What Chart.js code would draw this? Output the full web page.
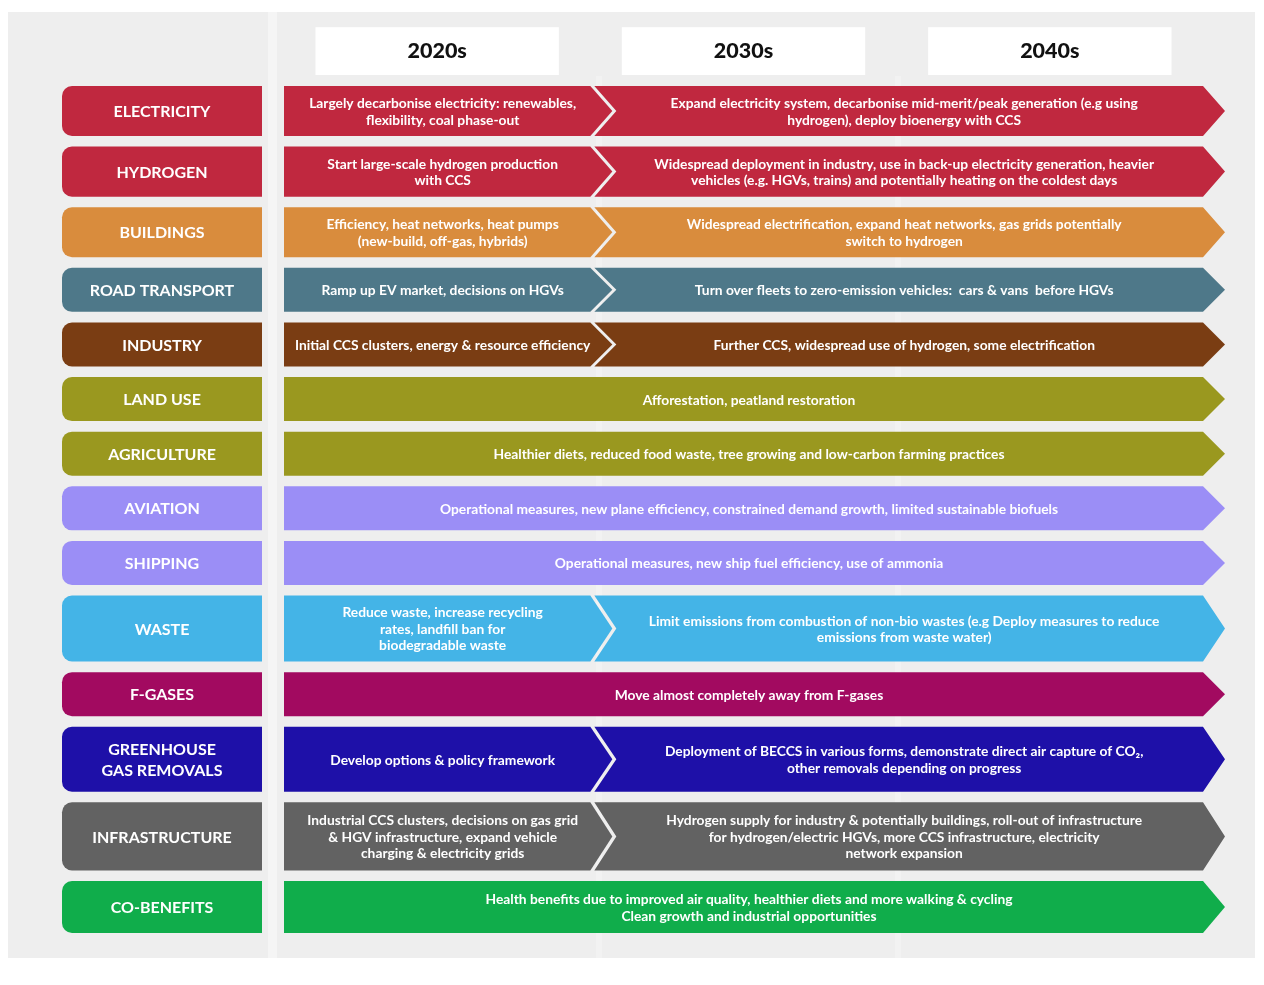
<!DOCTYPE html>
<html>
<head>
<meta charset="utf-8">
<script src="https://cdn.jsdelivr.net/npm/chart.js@4.4.1/dist/chart.umd.min.js"></script>
<style>
  html, body { margin: 0; padding: 0; background: #ffffff; }
</style>
</head>
<body>
<canvas id="roadmap" width="1264" height="985"></canvas>
<script>
// sectors, top to bottom
const sectors = ['ELECTRICITY', 'HYDROGEN', 'BUILDINGS', 'ROAD TRANSPORT', 'INDUSTRY', 'LAND USE',
  'AGRICULTURE', 'AVIATION', 'SHIPPING', 'WASTE', 'F-GASES', 'GREENHOUSE\nGAS REMOVALS',
  'INFRASTRUCTURE', 'CO-BENEFITS'];

const decades = ['2020s', '2030s', '2040s'];
const decadeStarts = [2020, 2030, 2040];
const periodStart = 2020;
const periodSplit = 2030;
const periodEnd = 2050;

// what happens in the 2020s (null = one action runs over the whole period)
const earlyActions = [
  'Largely decarbonise electricity: renewables,\nflexibility, coal phase-out',
  'Start large-scale hydrogen production\nwith CCS',
  'Efficiency, heat networks, heat pumps\n(new-build, off-gas, hybrids)',
  'Ramp up EV market, decisions on HGVs',
  'Initial CCS clusters, energy & resource efficiency',
  null,
  null,
  null,
  null,
  'Reduce waste, increase recycling\nrates, landfill ban for\nbiodegradable waste',
  null,
  'Develop options & policy framework',
  'Industrial CCS clusters, decisions on gas grid\n& HGV infrastructure, expand vehicle\ncharging & electricity grids',
  null
];

// what happens in the 2030s and 2040s (or whole period)
const laterActions = [
  'Expand electricity system, decarbonise mid-merit/peak generation (e.g using\nhydrogen), deploy bioenergy with CCS',
  'Widespread deployment in industry, use in back-up electricity generation, heavier\nvehicles (e.g. HGVs, trains) and potentially heating on the coldest days',
  'Widespread electrification, expand heat networks, gas grids potentially\nswitch to hydrogen',
  'Turn over fleets to zero-emission vehicles:  cars & vans  before HGVs',
  'Further CCS, widespread use of hydrogen, some electrification',
  'Afforestation, peatland restoration',
  'Healthier diets, reduced food waste, tree growing and low-carbon farming practices',
  'Operational measures, new plane efficiency, constrained demand growth, limited sustainable biofuels',
  'Operational measures, new ship fuel efficiency, use of ammonia',
  'Limit emissions from combustion of non-bio wastes (e.g Deploy measures to reduce\nemissions from waste water)',
  'Move almost completely away from F-gases',
  'Deployment of BECCS in various forms, demonstrate direct air capture of CO\u2082,\nother removals depending on progress',
  'Hydrogen supply for industry & potentially buildings, roll-out of infrastructure\nfor hydrogen/electric HGVs, more CCS infrastructure, electricity\nnetwork expansion',
  'Health benefits due to improved air quality, healthier diets and more walking & cycling\nClean growth and industrial opportunities'
];

const sectorColors = ['#c0283f', '#c0283f', '#d98c3d', '#4e7889', '#7a3d13', '#9a981f', '#9a981f',
  '#9b8ef6', '#9b8ef6', '#44b4e7', '#a20a60', '#1e10a8', '#626262', '#10ad4b'];

// layout: row heights and gap, in y-axis units
const rowHeights = [50, 50, 50, 44, 44, 44, 44, 44, 44, 66, 44, 65, 68, 52];
const rowGap = 10.6;

const rowTop = [];
const rowBottom = [];
let acc = 0;
rowHeights.forEach((h, i) => {
  rowTop.push(acc);
  rowBottom.push(acc + h);
  acc += h + rowGap;
});
const yTotal = acc - rowGap;
const rowMid = rowTop.map((t, i) => (t + rowBottom[i]) / 2);

const earlyData = [];
const laterData = [];
sectors.forEach((s, i) => {
  if (earlyActions[i]) earlyData.push({ x: [periodStart, periodSplit], y: rowMid[i], row: i });
  laterData.push({ x: [earlyActions[i] ? periodSplit : periodStart, periodEnd], y: rowMid[i], row: i });
});

const TIP = 22;
const NOTCH_GAP = 4;
const BAR_FONT = 'bold 13.8px Lato';
const LABEL_FONT = 'bold 16px Lato';

function drawLines(ctx, text, cx, cy, lh) {
  const lines = text.split('\n');
  const y0 = cy - (lines.length - 1) * lh / 2;
  lines.forEach((l, k) => ctx.fillText(l, cx, y0 + k * lh));
}

const roadmapPlugin = {
  id: 'roadmap',
  beforeDraw(chart) {
    const ctx = chart.ctx;
    ctx.save();
    ctx.fillStyle = '#ffffff';
    ctx.fillRect(0, 0, chart.width, chart.height);
    ctx.fillStyle = '#eeeeee';
    ctx.fillRect(8, 12, 1247, 946);
    // faint lighter column stripes
    ctx.fillStyle = 'rgba(255,255,255,0.4)';
    ctx.fillRect(268, 12, 9, 946);
    ctx.fillStyle = 'rgba(255,255,255,0.25)';
    ctx.fillRect(596, 76, 6, 882);
    ctx.fillRect(895, 76, 6, 882);
    ctx.restore();
  },
  afterDatasetsDraw(chart) {
    const ctx = chart.ctx;
    const yScale = chart.scales.y;
    ctx.save();
    ctx.textAlign = 'center';
    ctx.textBaseline = 'middle';

    // sector label boxes
    sectors.forEach((name, i) => {
      const top = yScale.getPixelForValue(rowTop[i]);
      const bottom = yScale.getPixelForValue(rowBottom[i]);
      ctx.fillStyle = sectorColors[i];
      ctx.beginPath();
      ctx.roundRect(62, top, 200, bottom - top, [10, 0, 0, 10]);
      ctx.fill();
      ctx.fillStyle = '#ffffff';
      ctx.font = LABEL_FONT;
      drawLines(ctx, name, 162, (top + bottom) / 2 + 1, 21);
    });

    chart.data.datasets.forEach((ds, d) => {
      const meta = chart.getDatasetMeta(d);
      meta.data.forEach((el, j) => {
        const raw = ds.data[j];
        const i = raw.row;
        const top = yScale.getPixelForValue(rowTop[i]);
        const bottom = yScale.getPixelForValue(rowBottom[i]);
        const mid = (top + bottom) / 2;
        const x0 = Math.min(el.x, el.base);
        const x1 = Math.max(el.x, el.base);
        const notched = raw.x[0] !== periodStart;
        const left = notched ? x0 + NOTCH_GAP : x0;
        ctx.fillStyle = sectorColors[i];
        ctx.beginPath();
        ctx.moveTo(left, top);
        if (notched) ctx.lineTo(left + TIP, mid);
        ctx.lineTo(left, bottom);
        ctx.lineTo(x1, bottom);
        ctx.lineTo(x1 + TIP, mid);
        ctx.lineTo(x1, top);
        ctx.closePath();
        ctx.fill();

        ctx.fillStyle = '#ffffff';
        ctx.font = BAR_FONT;
        drawLines(ctx, ds.texts[i], (left + TIP / 2 + x1) / 2, mid + 1, 16.5);
      });
    });
    ctx.restore();
  }
};

new Chart(document.getElementById('roadmap').getContext('2d'), {
  type: 'bar',
  data: {
    datasets: [
      { label: '2020s', data: earlyData, texts: earlyActions, backgroundColor: 'rgba(0,0,0,0)', borderWidth: 0 },
      { label: '2030s-2040s', data: laterData, texts: laterActions, backgroundColor: 'rgba(0,0,0,0)', borderWidth: 0 }
    ]
  },
  options: {
    responsive: false,
    devicePixelRatio: 1,
    animation: false,
    events: [],
    indexAxis: 'y',
    layout: { padding: { left: 284, right: 61, top: 0, bottom: 52 } },
    plugins: { legend: { display: false }, tooltip: { enabled: false } },
    scales: {
      x: {
        type: 'linear',
        position: 'top',
        min: periodStart,
        max: periodEnd,
        offset: false,
        grid: { display: false },
        border: { display: false },
        afterBuildTicks: (scale) => { scale.ticks = decadeStarts.map(d => ({ value: d + 5 })); },
        afterFit: (scale) => { scale.height = 86; },
        ticks: {
          autoSkip: false,
          maxRotation: 0,
          padding: 14,
          color: '#111111',
          font: { family: 'Lato', size: 21.5, weight: '900' },
          showLabelBackdrop: true,
          backdropColor: '#ffffff',
          backdropPadding: { x: 92, y: 11 },
          callback: (v) => decades[decadeStarts.indexOf(v - 5)]
        }
      },
      y: {
        type: 'linear',
        display: false,
        offset: false,
        reverse: true,
        min: 0,
        max: yTotal
      }
    }
  },
  plugins: [roadmapPlugin]
});
</script>
</body>
</html>
